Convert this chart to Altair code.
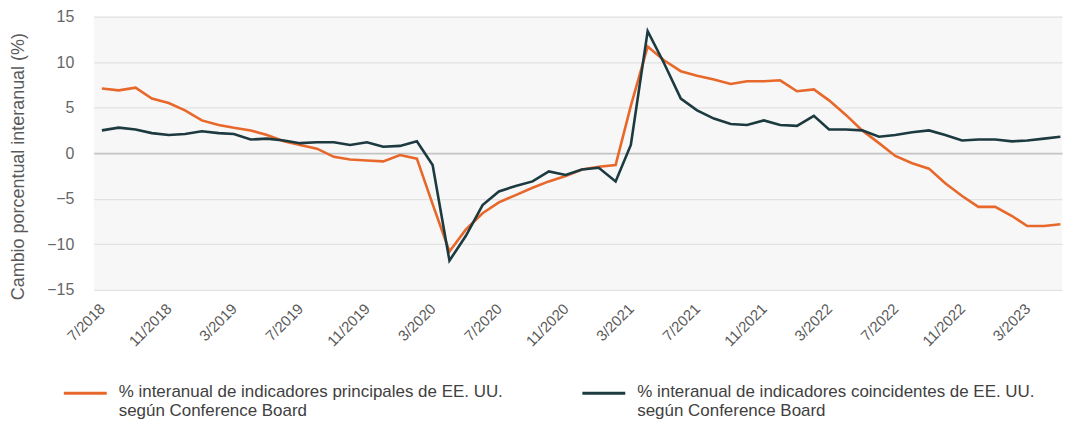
import altair as alt
import pandas as pd

# Monthly observations, 7/2018 .. 5/2023
months = pd.date_range("2018-07-01", periods=59, freq="MS").strftime("%Y-%m-%dT00:00:00").tolist()

lead = [7.1, 6.9, 7.2, 6.0, 5.5, 4.7, 3.6, 3.1, 2.8, 2.5,
        2.0, 1.3, 0.9, 0.5, -0.4, -0.7, -0.8, -0.9, -0.2, -0.6,
        -5.6, -10.8, -8.4, -6.6, -5.4, -4.6, -3.8, -3.1, -2.5, -1.8,
        -1.5, -1.3, 5.2, 11.7, 10.2, 9.0, 8.5, 8.1, 7.6, 7.9,
        7.9, 8.0, 6.8, 7.0, 5.8, 4.2, 2.5, 1.1, -0.3, -1.1,
        -1.7, -3.3, -4.7, -5.9, -5.9, -6.9, -8.0, -8.0, -7.8]

coin = [2.5, 2.8, 2.6, 2.2, 2.0, 2.1, 2.4, 2.2, 2.1, 1.5,
        1.6, 1.4, 1.1, 1.2, 1.2, 0.9, 1.2, 0.7, 0.8, 1.3,
        -1.3, -11.8, -9.1, -5.7, -4.2, -3.6, -3.1, -2.0, -2.4, -1.8,
        -1.6, -3.1, 0.9, 13.4, 9.9, 6.0, 4.7, 3.8, 3.2, 3.1,
        3.6, 3.1, 3.0, 4.1, 2.6, 2.6, 2.5, 1.8, 2.0, 2.3,
        2.5, 2.0, 1.4, 1.5, 1.5, 1.3, 1.4, 1.6, 1.8]

series_names = [
    "% interanual de indicadores principales de EE. UU.|según Conference Board",
    "% interanual de indicadores coincidentes de EE. UU.|según Conference Board",
]
series_colors = ["#E8672B", "#1C3A3F"]

tick_dates = [alt.DateTime(year=y, month=m, date=1) for (y, m) in [
    (2018, 7), (2018, 11), (2019, 3), (2019, 7), (2019, 11), (2020, 3), (2020, 7),
    (2020, 11), (2021, 3), (2021, 7), (2021, 11), (2022, 3), (2022, 7), (2022, 11), (2023, 3)]]

df = pd.DataFrame({
    "fecha": months * 2,
    "valor": lead + coin,
    "serie": [series_names[0]] * len(lead) + [series_names[1]] * len(coin),
})

FONT = "Liberation Sans"

x_enc = alt.X(
    "fecha:T",
    scale=alt.Scale(domain=[alt.DateTime(year=2018, month=6, date=16),
                            alt.DateTime(year=2023, month=5, date=4)]),
    axis=alt.Axis(
        values=tick_dates, format="%-m/%Y", title=None, labelAngle=315,
        labelAlign="right", labelBaseline="middle", labelPadding=16,
        labelFontSize=15, labelColor="#595959", labelFont=FONT,
        ticks=False, domain=False, grid=False, labelOverlap=False,
    ),
)
y_enc = alt.Y(
    "valor:Q",
    scale=alt.Scale(domain=[-15, 15], nice=False, zero=False),
    axis=alt.Axis(
        values=[-15, -10, -5, 0, 5, 10, 15], title="Cambio porcentual interanual (%)",
        titleFontSize=18, titleFontWeight="normal", titleColor="#595959", titleFont=FONT,
        titlePadding=19, titleY=150, labelFontSize=16, labelColor="#666666", labelFont=FONT,
        labelPadding=20, ticks=False, domain=False,
        gridColor=alt.condition("datum.value === 0", alt.value("#c4c4c4"), alt.value("#e2e2e2")),
        gridWidth=alt.condition("datum.value === 0", alt.value(1.6), alt.value(1.2)),
    ),
)
color_enc = alt.Color(
    "serie:N",
    scale=alt.Scale(domain=series_names, range=series_colors),
    legend=alt.Legend(
        orient="none", legendX=-32, legendY=345, direction="horizontal", columns=2,
        title=None, symbolType="M-1,0.42L1,0.42", symbolSize=1850, symbolStrokeWidth=3,
        labelFontSize=17, labelFont=FONT, labelColor="#404040",
        labelExpr="split(datum.label, '|')", labelLimit=700, columnPadding=72,
        labelOffset=10, labelBaseline="top",
    ),
)

base = alt.Chart(df).encode(x=x_enc, y=y_enc, color=color_enc)

lead_line = base.transform_filter(alt.datum.serie == series_names[0]).mark_line(strokeWidth=2.6)
coin_line = base.transform_filter(alt.datum.serie == series_names[1]).mark_line(strokeWidth=2.6)

chart = alt.layer(lead_line, coin_line).properties(
    width=971, height=274, padding={"left": 1, "top": 0, "right": 0, "bottom": 0}
).configure_view(fill="#f7f7f7", strokeWidth=0)

chart.save("out.html", embed_options={"renderer": "svg", "actions": False})
